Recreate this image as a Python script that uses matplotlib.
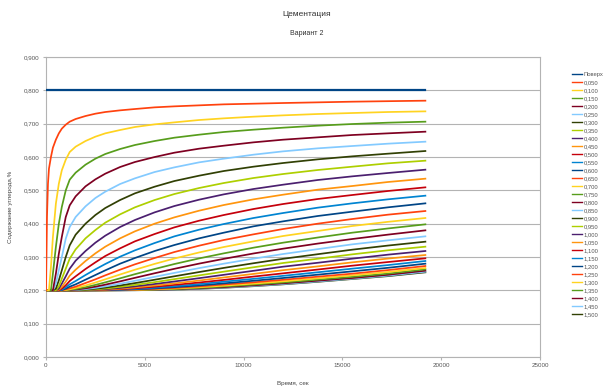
import matplotlib
matplotlib.use("Agg")
import matplotlib.pyplot as plt
from matplotlib.ticker import FuncFormatter, MultipleLocator

# ---- data ----
times = [0, 50, 100, 150, 250, 350, 500, 650, 800, 1000, 1200, 1500, 2000, 2500, 3000,
         3750, 4500, 5500, 6500, 7750, 9000, 10500, 12000, 13750, 15500, 17300, 19200]

labels = ["Поверх", "0,050", "0,100", "0,150", "0,200", "0,250", "0,300", "0,350",
          "0,400", "0,450", "0,500", "0,550", "0,600", "0,650", "0,700", "0,750",
          "0,800", "0,850", "0,900", "0,950", "1,000", "1,050", "1,100", "1,150",
          "1,200", "1,250", "1,300", "1,350", "1,400", "1,450", "1,500"]

surface = [0.8, 0.8, 0.8, 0.8, 0.8, 0.8, 0.8, 0.8, 0.8, 0.8, 0.8, 0.8, 0.8, 0.8, 0.8,
           0.8, 0.8, 0.8, 0.8, 0.8, 0.8, 0.8, 0.8, 0.8, 0.8, 0.8, 0.8]
d005 = [.2, .42, .52, .565, .60, .628, .652, .671, .685, .697, .706, .714, .723, .730, .735,
        .740, .744, .749, .752, .755, .758, .760, .762, .764, .766, .7675, .769]
d010 = [.2, .2, .2, .2, .27, .36, .46, .52, .56, .592, .615, .631, .648, .661, .671,
        .681, .690, .698, .704, .711, .716, .721, .725, .729, .732, .735, .737]
d015 = [.2, .2, .2, .2, .2, .25, .33, .40, .45, .50, .532, .553, .577, .595, .609,
        .624, .636, .648, .658, .667, .675, .682, .688, .694, .699, .703, .706]
d020 = [.2, .2, .2, .2, .2, .2, .25, .31, .36, .42, .455, .482, .512, .533, .550,
        .570, .585, .600, .613, .625, .634, .644, .652, .659, .666, .671, .676]
d025 = [.2, .2, .2, .2, .2, .2, .22, .26, .30, .355, .39, .42, .452, .477, .496,
        .519, .536, .555, .569, .584, .595, .607, .617, .626, .633, .640, .646]
d030 = [.2, .2, .2, .2, .2, .2, .205, .23, .26, .30, .335, .367, .400, .426, .447,
        .471, .491, .511, .528, .544, .558, .571, .582, .593, .602, .610, .618]
d035 = [.2, .2, .2, .2, .2, .2, .2, .212, .235, .265, .295, .323, .356, .381, .403,
        .428, .449, .471, .489, .507, .522, .537, .549, .561, .571, .581, .589]
d040 = [.2, .2, .2, .2, .2, .2, .2, .205, .22, .242, .265, .289, .318, .343, .364,
        .390, .411, .434, .453, .472, .488, .504, .517, .531, .542, .552, .562]
d045 = [.2, .2, .2, .2, .2, .2, .2, .202, .21, .226, .244, .262, .288, .311, .331,
        .356, .377, .400, .419, .439, .456, .473, .487, .502, .513, .525, .535]
d050 = [.2, .2, .2, .2, .2, .2, .2, .2, .205, .215, .228, .242, .264, .284, .303,
        .326, .347, .369, .389, .409, .426, .444, .459, .474, .486, .498, .509]
d055 = [.2, .2, .2, .2, .2, .2, .2, .2, .202, .209, .218, .228, .246, .263, .279,
        .301, .320, .342, .362, .382, .399, .417, .432, .448, .461, .473, .484]
d060 = [.2, .2, .2, .2, .2, .2, .2, .2, .201, .205, .211, .218, .232, .246, .260,
        .280, .297, .318, .336, .356, .373, .392, .407, .423, .436, .449, .461]
d065 = [.2, .2, .2, .2, .2, .2, .2, .2, .2, .203, .206, .211, .222, .233, .245,
        .262, .278, .297, .315, .334, .351, .368, .384, .400, .414, .427, .438]
d070 = [.2, .2, .2, .2, .2, .2, .2, .2, .2, .201, .203, .207, .2145, .2234, .233,
        .2476, .2618, .2794, .2955, .3137, .330, .347, .363, .378, .393, .4055, .417]
d075 = [.2, .2, .2, .2, .2, .2, .2, .2, .2, .2005, .202, .204, .2094, .2163, .2239,
        .2361, .2485, .2641, .279, .2958, .311, .328, .343, .3585, .373, .3856, .398]
d080 = [.2, .2, .2, .2, .2, .2, .2, .2, .2, .2, .201, .2023, .206, .211, .217,
        .227, .2375, .2513, .2646, .2802, .2945, .3106, .325, .3403, .354, .3671, .380]
d085 = [.2, .2, .2, .2, .2, .2, .2, .2, .2, .2, .2005, .2013, .2037, .2073, .2119,
        .2199, .2286, .2406, .2524, .2667, .280, .295, .309, .3236, .338, .350, .362]
d090 = [.2, .2, .2, .2, .2, .2, .2, .2, .2, .2, .2, .2007, .2023, .2048, .2082,
        .2145, .2217, .2318, .2422, .2549, .2673, .2813, .2946, .3084, .322, .3343, .346]
d095 = [.2, .2, .2, .2, .2, .2, .2, .2, .2, .2, .2, .2004, .2014, .2031, .2055,
        .2104, .2162, .2246, .2336, .2449, .2561, .2692, .282, .2948, .308, .3201, .331]
d100 = [.2, .2, .2, .2, .2, .2, .2, .2, .2, .2, .2, .2002, .2008, .2019, .2037,
        .2073, .2119, .219, .2266, .2365, .2466, .2586, .271, .2827, .295, .307, .318]
d105 = [.2, .2, .2, .2, .2, .2, .2, .2, .2, .2, .2, .2, .2005, .2012, .2025,
        .2051, .2087, .2144, .2208, .2294, .2386, .2493, .2605, .2719, .284, .2953, .306]
d110 = [.2, .2, .2, .2, .2, .2, .2, .2, .2, .2, .2, .2, .2003, .2007, .2016,
        .2035, .2062, .2108, .2164, .2235, .2313, .2413, .251, .2624, .274, .2849, .296]
d115 = [.2, .2, .2, .2, .2, .2, .2, .2, .2, .2, .2, .2, .2002, .2004, .201,
        .2025, .2044, .208, .2125, .2187, .226, .2345, .2435, .2542, .265, .2757, .288]
d120 = [.2, .2, .2, .2, .2, .2, .2, .2, .2, .2, .2, .2, .2001, .2002, .2006,
        .2016, .2032, .2059, .2095, .2147, .221, .2288, .237, .247, .257, .2676, .280]
d125 = [.2, .2, .2, .2, .2, .2, .2, .2, .2, .2, .2, .2, .2, .2001, .2004,
        .2011, .2022, .2043, .2072, .2119, .2175, .224, .2316, .241, .250, .2607, .273]
d130 = [.2, .2, .2, .2, .2, .2, .2, .2, .2, .2, .2, .2, .2, .2, .2002,
        .2007, .2014, .2031, .2053, .2094, .214, .2202, .227, .236, .245, .255, .267]
d135 = [.2, .2, .2, .2, .2, .2, .2, .2, .2, .2, .2, .2, .2, .2, .2001,
        .2005, .201, .2023, .204, .2074, .2116, .2173, .2236, .2321, .2405, .2503, .263]
d140 = [.2, .2, .2, .2, .2, .2, .2, .2, .2, .2, .2, .2, .2, .2, .2001,
        .2003, .2007, .2018, .2033, .206, .2096, .215, .221, .229, .237, .2467, .259]
d145 = [.2, .2, .2, .2, .2, .2, .2, .2, .2, .2, .2, .2, .2, .2, .2,
        .2002, .2004, .2013, .2026, .2051, .2085, .2133, .219, .2268, .235, .2442, .256]
d150 = [.2, .2, .2, .2, .2, .2, .2, .2, .2, .2, .2, .2, .2, .2, .2,
        .2001, .2003, .2012, .2022, .2045, .2077, .2125, .218, .2256, .234, .2426, .254]

series = [surface, d005, d010, d015, d020, d025, d030, d035, d040, d045, d050, d055,
          d060, d065, d070, d075, d080, d085, d090, d095, d100, d105, d110, d115,
          d120, d125, d130, d135, d140, d145, d150]

palette = ["#004586", "#ff420e", "#ffd320", "#579d1c", "#7e0021", "#83caff",
           "#314004", "#aecf00", "#4b1f6f", "#ff950e", "#c5000b", "#0084d1"]

# ---- figure ----
plt.rcParams['font.family'] = ['Liberation Sans', 'DejaVu Sans']
fig = plt.figure(figsize=(6.1, 3.9), dpi=100)
ax = fig.add_axes([0.0754, 0.0846, 0.8098, 0.7692])

for i, (lab, vals) in enumerate(zip(labels, series)):
    ax.plot(times, vals, color=palette[i % len(palette)],
            lw=1.6 if i == 0 else 1.25, label=lab, zorder=3 + (30 - i) * 0.01,
            solid_joinstyle='round')

ax.set_xlim(0, 25000)
ax.set_ylim(0, 0.9)
ax.xaxis.set_major_locator(MultipleLocator(5000))
ax.yaxis.set_major_locator(MultipleLocator(0.1))
ax.yaxis.set_major_formatter(FuncFormatter(lambda v, p: f"{v:.3f}".replace('.', ',')))
ax.xaxis.set_major_formatter(FuncFormatter(lambda v, p: f"{int(round(v))}"))
ax.grid(axis='y', color='#b3b3b3', lw=0.8)
ax.set_axisbelow(True)
for s in ax.spines.values():
    s.set_color('#b3b3b3')
    s.set_linewidth(0.8)
ax.tick_params(axis='both', labelsize=4.5, colors='#b3b3b3', labelcolor='#555555',
               length=2.5, width=0.8, pad=2)

ax.set_xlabel("Время, сек", fontsize=4.5, color='#444444', labelpad=9)
ax.set_ylabel("Содержание углерода,%", fontsize=4.5, color='#444444', labelpad=8)

fig.text(0.503, 0.962, "Цементация", ha='center', va='center', fontsize=6, color='#333333')
fig.text(0.503, 0.914, "Вариант 2", ha='center', va='center', fontsize=5, color='#333333')

leg = fig.legend(loc='center left', bbox_to_anchor=(0.938, 0.501), frameon=False,
                 fontsize=4.2, handlelength=1.7, handletextpad=0.3,
                 labelspacing=0.50, borderaxespad=0, borderpad=0)
for t in leg.get_texts():
    t.set_color('#555555')
for h in leg.get_lines():
    h.set_linewidth(1.0)

fig.savefig("out.png", dpi=100)
